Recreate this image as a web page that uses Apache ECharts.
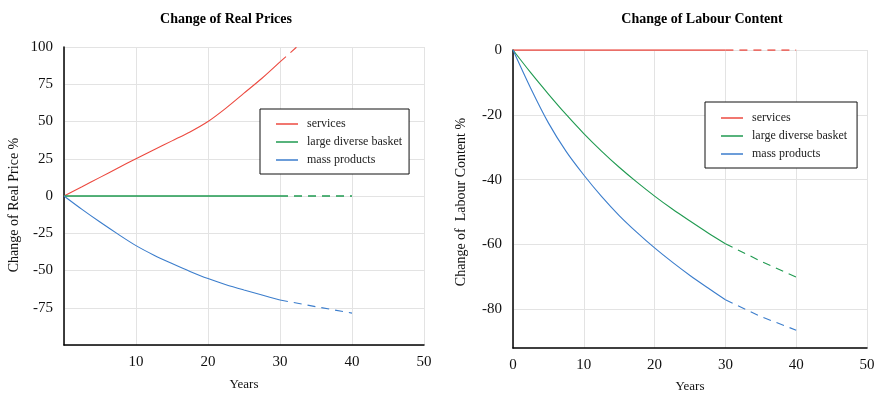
<!DOCTYPE html>
<html>
<head>
<meta charset="utf-8">
<script src="https://cdn.jsdelivr.net/npm/echarts@6/dist/echarts.min.js"></script>
<style>html,body{margin:0;padding:0;background:#fff;}#c{width:878px;height:396px;}</style>
</head>
<body>
<div id="c"></div>
<script>
// ---- data ----
const seriesNames = ['services', 'large diverse basket', 'mass products'];
const years = [0, 2.5, 5, 7.5, 10, 12.5, 15, 17.5, 20, 22.5, 25, 27.5, 30];
const yearsProj = [30, 35, 40];

const priceServices = [0, 6.2, 12.5, 18.8, 25, 31, 37, 43, 50, 59, 69, 79, 90];
const priceServicesProj = [90, 111.5, 133];
const priceBasket = [0, 0, 0, 0, 0, 0, 0, 0, 0, 0, 0, 0, 0];
const priceBasketProj = [0, 0, 0];
const priceMass = [0, -9, -17.5, -25.6, -33.3, -39.7, -45.3, -50.6, -55.4, -59.5, -63.1, -66.5, -69.8];
const priceMassProj = [-69.8, -74.3, -78.6];

const labourServices = [0, 0, 0, 0, 0, 0, 0, 0, 0, 0, 0, 0, 0];
const labourServicesProj = [0, 0, 0];
const labourBasket = [0, -7, -13.6, -19.9, -25.8, -31.2, -36.2, -40.8, -45.1, -49.1, -52.8, -56.4, -59.8];
const labourBasketProj = [-59.8, -65.2, -70.1];
const labourMass = [0, -11.8, -22.5, -31.3, -38.6, -45.2, -51.1, -56.3, -61.1, -65.5, -69.6, -73.4, -77.1];
const labourMassProj = [-77.1, -82.3, -86.5];

const xTicks = [0, 10, 20, 30, 40, 50];
const priceYTicks = [-100, -75, -50, -25, 0, 25, 50, 75, 100];
const labourYTicks = [0, -20, -40, -60, -80];

// ---- styling ----
const FONT = "'Liberation Serif', 'Times New Roman', serif";
const colors = ['#ec4a40', '#1f9a50', '#3b7dcc'];
const gridColor = '#e3e3e3';

function pairs(xs, ys) { return xs.map((x, i) => [x, ys[i]]); }

function mk(name, xi, colorIdx, xs, ys, dashed, flat) {
  return {
    name: name, type: 'line', xAxisIndex: xi, yAxisIndex: xi,
    data: pairs(xs, ys), showSymbol: false, symbol: 'none',
    smooth: dashed || flat ? false : 0.3,
    color: colors[colorIdx],
    lineStyle: { width: flat ? 1.6 : 1.1, color: colors[colorIdx], type: dashed ? [8, 6] : 'solid' },
    animation: false, silent: true
  };
}

const series = [
  mk('services', 0, 0, years, priceServices, false, false),
  mk('services', 0, 0, yearsProj, priceServicesProj, true, false),
  mk('large diverse basket', 0, 1, years, priceBasket, false, true),
  mk('large diverse basket', 0, 1, yearsProj, priceBasketProj, true, true),
  mk('mass products', 0, 2, years, priceMass, false, false),
  mk('mass products', 0, 2, yearsProj, priceMassProj, true, false),
  mk('services', 1, 0, years, labourServices, false, true),
  mk('services', 1, 0, yearsProj, labourServicesProj, true, true),
  mk('large diverse basket', 1, 1, years, labourBasket, false, false),
  mk('large diverse basket', 1, 1, yearsProj, labourBasketProj, true, false),
  mk('mass products', 1, 2, years, labourMass, false, false),
  mk('mass products', 1, 2, yearsProj, labourMassProj, true, false)
];

const axisLine = { show: true, onZero: false, lineStyle: { color: '#000', width: 1.5 } };
const splitLine = { show: true, lineStyle: { color: gridColor, width: 1 } };
const labelStyle = { fontFamily: FONT, fontSize: 15, color: '#111' };

function xAxis(gi, showZero, gap) {
  return {
    type: 'value', gridIndex: gi, min: xTicks[0], max: xTicks[xTicks.length - 1], interval: 10,
    name: 'Years', nameLocation: 'middle', nameGap: gap,
    nameTextStyle: { fontFamily: FONT, fontSize: 13, color: '#111' },
    axisLine: axisLine, axisTick: { show: false }, splitLine: splitLine,
    axisLabel: Object.assign({ margin: 10, formatter: v => (v === 0 && !showZero) ? '' : String(v) }, labelStyle)
  };
}

const legendBase = {
  orient: 'vertical', icon: 'rect', itemWidth: 22, itemHeight: 1.5, itemGap: 6,
  backgroundColor: '#fff', borderColor: '#111', borderWidth: 1,
  selectedMode: false,
  textStyle: { fontFamily: FONT, fontSize: 12, color: '#222', lineHeight: 12, padding: [0, 0, 0, 4] },
  data: seriesNames
};

const option = {
  animation: false,
  backgroundColor: '#fff',
  title: [
    { text: 'Change of Real Prices', left: 221, top: 7, textAlign: 'center',
      textStyle: { fontFamily: FONT, fontSize: 14, fontWeight: 'bold', color: '#000' } },
    { text: 'Change of Labour Content', left: 697, top: 7, textAlign: 'center',
      textStyle: { fontFamily: FONT, fontSize: 14, fontWeight: 'bold', color: '#000' } }
  ],
  grid: [
    { left: 64, right: 454, top: 47, bottom: 51, outerBoundsMode: 'none', containLabel: false },
    { left: 513, right: 11, top: 50, bottom: 48, outerBoundsMode: 'none', containLabel: false }
  ],
  legend: [
    Object.assign({}, legendBase, { left: 260, top: 109, padding: [9, 7, 8, 16] }),
    Object.assign({}, legendBase, { left: 705, top: 102, padding: [10, 10, 8, 16] })
  ],
  xAxis: [xAxis(0, false, 33), xAxis(1, true, 32)],
  yAxis: [
    {
      type: 'value', gridIndex: 0, min: priceYTicks[0], max: priceYTicks[priceYTicks.length - 1], interval: 25,
      name: 'Change of Real Price %', nameLocation: 'middle', nameGap: 43,
      nameTextStyle: { fontFamily: FONT, fontSize: 14, color: '#111', padding: [0, 18, 0, 0] },
      axisLine: axisLine, axisTick: { show: false }, splitLine: splitLine,
      axisLabel: Object.assign({ margin: 11, formatter: v => v === -100 ? '' : String(v) }, labelStyle)
    },
    {
      type: 'value', gridIndex: 1, min: -92, max: 0,
      name: 'Change of  Labour Content %', nameLocation: 'middle', nameGap: 45,
      nameTextStyle: { fontFamily: FONT, fontSize: 14, color: '#111', padding: [0, 6, 0, 0] },
      axisLine: axisLine, axisTick: { show: false, customValues: labourYTicks }, splitLine: splitLine,
      axisLabel: Object.assign({ margin: 11, customValues: labourYTicks }, labelStyle)
    }
  ],
  series: series
};

const chart = echarts.init(document.getElementById('c'), null, { renderer: 'canvas' });
chart.setOption(option);
</script>
</body>
</html>
